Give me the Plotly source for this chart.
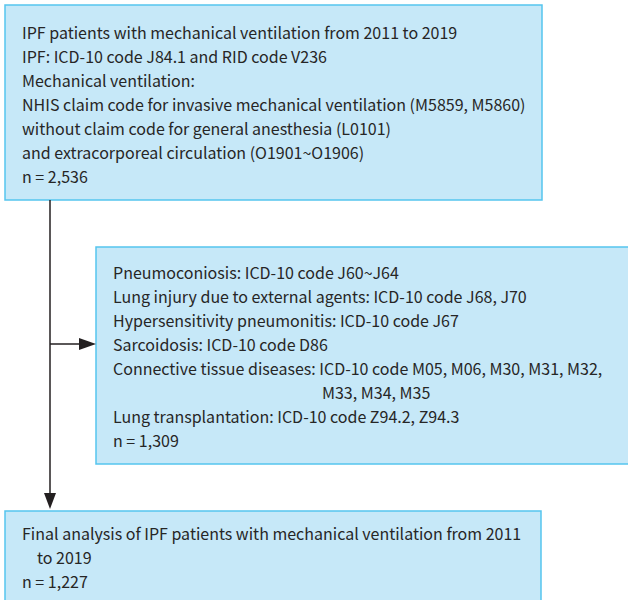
import plotly.graph_objects as go

# ---- data (text content of the flow chart) ----
box1_lines = [
    "IPF patients with mechanical ventilation from 2011 to 2019",
    "IPF: ICD-10 code J84.1 and RID code V236",
    "Mechanical ventilation:",
    "NHIS claim code for invasive mechanical ventilation (M5859, M5860)",
    "without claim code for general anesthesia (L0101)",
    "and extracorporeal circulation (O1901~O1906)",
]
n_total = 2536

box2_lines = [
    "Pneumoconiosis: ICD-10 code J60~J64",
    "Lung injury due to external agents: ICD-10 code J68, J70",
    "Hypersensitivity pneumonitis: ICD-10 code J67",
    "Sarcoidosis: ICD-10 code D86",
    "Connective tissue diseases: ICD-10 code M05, M06, M30, M31, M32,",
    "M33, M34, M35",
    "Lung transplantation: ICD-10 code Z94.2, Z94.3",
]
n_excluded = 1309

box3_lines = [
    "Final analysis of IPF patients with mechanical ventilation from 2011",
    "to 2019",
]
n_final = 1227

# ---- styling ----
FILL = "#C6E8F8"
EDGE = "#55C5EE"
INK = "#231F20"
FONT = dict(family="Noto Sans CJK KR, Noto Sans, sans-serif", size=16, color="#262626")
LH = 24  # line height in px

fig = go.Figure()
shapes = []
annotations = []

def box(x0, y0, x1, y1):
    shapes.append(dict(type="rect", x0=x0, y0=y0, x1=x1, y1=y1,
                       fillcolor=FILL, line=dict(color=EDGE, width=1.5), layer="below"))

def text(x, y, s):
    annotations.append(dict(x=x, y=y, text=s, showarrow=False, xanchor="left",
                            yanchor="middle", font=FONT, xref="x", yref="y"))

# Boxes
box(5, 5, 542, 200)
box(96, 247, 640, 464)
box(5, 511, 541, 640)

# Box 1 text
lines1 = box1_lines + [f"n = {n_total:,}"]
for i, s in enumerate(lines1):
    text(20, 32 + i * LH, s)

# Box 2 text
lines2 = box2_lines + [f"n = {n_excluded:,}"]
for i, s in enumerate(lines2):
    x = 320 if s.startswith("M33") else 111
    text(x, 272 + i * LH, s)

# Box 3 text
lines3 = box3_lines + [f"n = {n_final:,}"]
for i, s in enumerate(lines3):
    x = 35 if s.startswith("to ") else 20
    text(x, 533 + i * LH, s)

# Connectors
shapes.append(dict(type="line", x0=50, y0=200, x1=50, y1=495, line=dict(color=INK, width=1.5)))
shapes.append(dict(type="path", path="M 44 493 L 56 493 L 50 509 Z", fillcolor=INK,
                   line=dict(color=INK, width=0)))
shapes.append(dict(type="line", x0=50, y0=344, x1=81, y1=344, line=dict(color=INK, width=1.5)))
shapes.append(dict(type="path", path="M 79 338 L 79 350 L 96 344 Z", fillcolor=INK,
                   line=dict(color=INK, width=0)))

fig.update_layout(
    width=628, height=600,
    margin=dict(l=0, r=0, t=0, b=0),
    paper_bgcolor="white", plot_bgcolor="white",
    xaxis=dict(range=[0, 628], visible=False, fixedrange=True),
    yaxis=dict(range=[600, 0], visible=False, fixedrange=True),
    shapes=shapes, annotations=annotations, showlegend=False,
)
fig.write_html("out.html", config={"displayModeBar": False},
               post_script="document.body.style.margin='0';document.body.style.overflow='hidden';")
